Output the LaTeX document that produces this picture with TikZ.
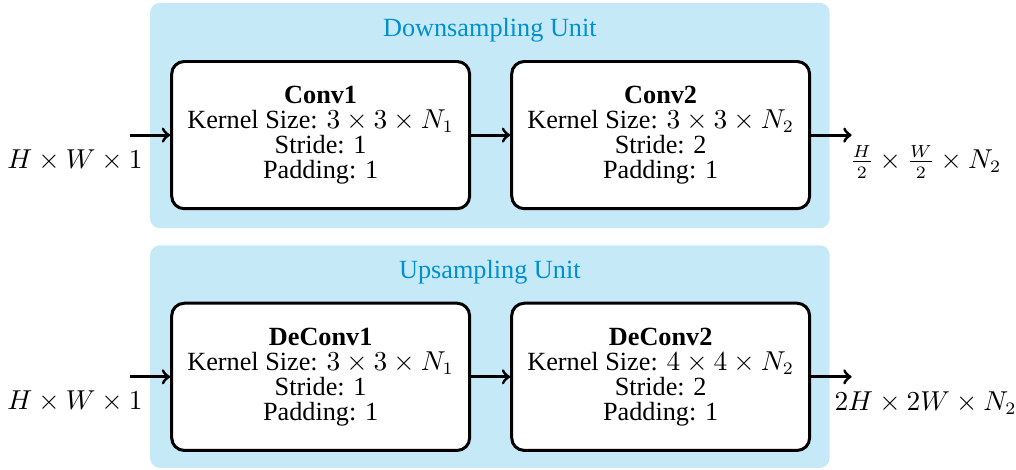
\documentclass[tikz,border=0pt]{standalone}
\usepackage{amsmath}
\usepackage{fontspec}
\setmainfont{Liberation Serif}
\usepackage{tikz}
\usetikzlibrary{positioning, arrows, calc}

\definecolor{unitfill}{RGB}{198,233,248}
\definecolor{unittext}{RGB}{0,144,208}

\tikzset{
    layer/.style={draw, very thick, rounded corners=5pt, fill=white,
        minimum width=4.19cm, minimum height=2.07cm, align=center,
        font=\fontsize{10.5}{10}\selectfont},
    unit/.style={fill=unitfill, rounded corners=4pt},
    unitlabel/.style={text=unittext, font=\fontsize{10.5}{12}\selectfont},
    flow/.style={->, very thick},
    dimlabel/.style={font=\fontsize{10.5}{12}\selectfont}
}

\begin{document}
\begin{tikzpicture}[]
        \def\gap{0.55cm}
        \def\reach{0.57}

        \useasboundingbox (0,0) rectangle (14.29,-6.61);

        % unit backgrounds
        \fill[unit] (2.11,-0.04) rectangle (11.67,-3.21);
        \fill[unit] (2.11,-3.45) rectangle (11.67,-6.58);
        \node[unitlabel] (downtitle) at (6.89,-0.42) {Downsampling Unit};
        \node[unitlabel] (uptitle) at (6.89,-3.83) {Upsampling Unit};

        % layers
        \node[layer] (conv1) at (4.51,-1.90)
            {\textbf{Conv1}\\Kernel Size: $3\times3\times N_1$\\Stride: 1\\Padding: 1};
        \node[layer, right=\gap of conv1] (conv2)
            {\textbf{Conv2}\\Kernel Size: $3\times3\times N_2$\\Stride: 2\\Padding: 1};
        \node[layer] (deconv1) at (4.51,-5.30)
            {\textbf{DeConv1}\\Kernel Size: $3\times3\times N_1$\\Stride: 1\\Padding: 1};
        \node[layer, right=\gap of deconv1] (deconv2)
            {\textbf{DeConv2}\\Kernel Size: $4\times4\times N_2$\\Stride: 2\\Padding: 1};

        % inputs and outputs
        \foreach \first/\second in {conv1/conv2, deconv1/deconv2}
        {
            \coordinate (in-\first) at ($(\first.west)+(-\reach,0)$);
            \coordinate (out-\second) at ($(\second.east)+(\reach,0)$);
            \draw[flow] (in-\first) -- (\first);
            \draw[flow] (\first) -- (\second);
            \draw[flow] (\second) -- (out-\second);
            \node[dimlabel] (inlabel-\first) at ($(in-\first)+(-0.77,-0.35)$) {$H\times W\times 1$};
        }

        \node[dimlabel] (outlabel-conv2) at ($(out-conv2)+(1.04,-0.38)$)
            {$\frac{H}{2}\times\frac{W}{2}\times N_2$};
        \node[dimlabel] (outlabel-deconv2) at ($(out-deconv2)+(1.04,-0.37)$)
            {$2H\times 2W\times N_2$};
    \end{tikzpicture}
\end{document}
